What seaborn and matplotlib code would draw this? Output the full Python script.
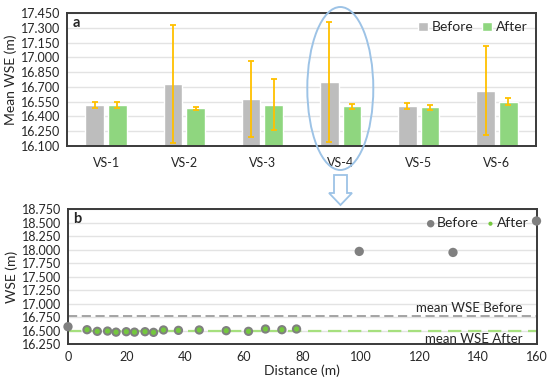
import matplotlib

matplotlib.use("Agg")

import matplotlib.pyplot as plt
import numpy as np
import pandas as pd
import seaborn as sns
from matplotlib.patches import Ellipse, Polygon
from matplotlib.ticker import MultipleLocator, FormatStrFormatter


# --------------------------------------------------
# Data
# --------------------------------------------------

stations = ["VS-1", "VS-2", "VS-3", "VS-4", "VS-5", "VS-6"]

mean_before = [16.517, 16.730, 16.580, 16.750, 16.506, 16.660]
mean_after = [16.517, 16.482, 16.520, 16.502, 16.492, 16.548]

err_before = [0.030, 0.595, 0.385, 0.610, 0.035, 0.450]
err_after = [0.030, 0.017, 0.260, 0.028, 0.025, 0.035]

dist_before = [0.0, 6.5, 10.0, 13.5, 16.4, 19.9, 22.7, 26.3, 29.2, 32.6,
               37.7, 44.8, 54.0, 61.6, 67.4, 73.0, 78.0, 99.4, 131.4, 159.9]
wse_before = [16.571, 16.515, 16.485, 16.490, 16.470, 16.478, 16.470,
              16.478, 16.466, 16.510, 16.503, 16.510, 16.497, 16.485,
              16.528, 16.515, 16.528, 17.965, 17.946, 18.528]

dist_after = [6.5, 10.0, 13.5, 16.4, 19.9, 22.7, 26.3, 29.2, 32.6,
              37.7, 44.8, 54.0, 61.6, 67.4, 73.0, 78.0]
wse_after = [16.515, 16.485, 16.490, 16.470, 16.478, 16.470, 16.478,
             16.466, 16.510, 16.503, 16.510, 16.497, 16.485, 16.528,
             16.515, 16.528]

mean_wse_before = 16.765
mean_wse_after = 16.500

GRAY_BAR = "#BDBDBD"
GREEN_BAR = "#8FD67F"
ERR_COLOR = "#FFC000"
POINT_GRAY = "#808080"
POINT_GREEN = "#74C83E"
FRAME = "#3A3A3A"
TEXT = "#262626"


# --------------------------------------------------
# Style
# --------------------------------------------------

sns.set_style("white")
plt.rcParams["font.family"] = ["Lato", "DejaVu Sans"]
plt.rcParams["text.color"] = TEXT
plt.rcParams["axes.labelcolor"] = TEXT
plt.rcParams["xtick.color"] = TEXT
plt.rcParams["ytick.color"] = TEXT

fig = plt.figure(figsize=(5.5, 3.79), dpi=100)

ax_a = fig.add_axes([0.1218, 0.6148, 0.8527, 0.3509])
ax_b = fig.add_axes([0.1236, 0.0923, 0.8524, 0.3562])


def style_frame(ax):

    for spine in ax.spines.values():
        spine.set_visible(True)
        spine.set_color(FRAME)
        spine.set_linewidth(1.4)

    ax.grid(axis="y", color="#E3E3E3", linewidth=1.0)
    ax.set_axisbelow(True)


# --------------------------------------------------
# Panel a: bar chart
# --------------------------------------------------

bars_df = pd.DataFrame({
    "station": stations * 2,
    "wse": mean_before + mean_after,
    "err": err_before + err_after,
    "period": ["Before"] * len(stations) + ["After"] * len(stations),
})

sns.barplot(
    data=bars_df,
    x="station",
    y="wse",
    hue="period",
    palette={"Before": GRAY_BAR, "After": GREEN_BAR},
    width=0.58,
    gap=0.18,
    errorbar=None,
    saturation=1,
    ax=ax_a,
)

# error bars at the bar centres
bar_patches = [p for p in ax_a.patches if p.get_height() > 0][:len(bars_df)]
for patch, (_, row) in zip(bar_patches, bars_df.iterrows()):
    ax_a.errorbar(
        patch.get_x() + patch.get_width() / 2,
        row["wse"],
        yerr=row["err"],
        color=ERR_COLOR,
        linewidth=1.3,
        capsize=2,
        capthick=1.3,
    )

ax_a.set_ylim(16.1, 17.45)
ax_a.set_yticks(np.round(np.arange(16.1, 17.46, 0.15), 3))
ax_a.yaxis.set_major_formatter(FormatStrFormatter("%.3f"))
ax_a.set_xlim(-0.5, len(stations) - 0.5)
ax_a.set_xlabel("")
ax_a.set_ylabel("Mean WSE (m)", fontsize=10, labelpad=3)
ax_a.tick_params(axis="both", labelsize=9, length=0, pad=5)
ax_a.tick_params(axis="x", pad=8)
style_frame(ax_a)

handles, labels = ax_a.get_legend_handles_labels()
ax_a.legend(
    handles, labels,
    loc="upper right",
    ncol=2,
    frameon=False,
    fontsize=10,
    handlelength=0.7,
    handleheight=0.7,
    handletextpad=0.3,
    columnspacing=0.6,
    borderaxespad=0.2,
)

ax_a.text(0.012, 0.975, "a", transform=ax_a.transAxes,
          fontsize=10.5, fontweight="bold", va="top", ha="left")


# --------------------------------------------------
# Panel b: scatter along distance
# --------------------------------------------------

ax_b.axhline(mean_wse_before, color="#8C8C8C", linestyle=(0, (6, 3)),
             linewidth=1.1, zorder=1)
ax_b.axhline(mean_wse_after, color="#A6E07E", linestyle=(0, (6, 3)),
             linewidth=1.6, zorder=1)

sns.scatterplot(
    x=dist_before, y=wse_before,
    color=POINT_GRAY, s=45, edgecolor="none",
    label="Before", ax=ax_b, zorder=3, clip_on=False,
)
sns.scatterplot(
    x=dist_after, y=wse_after,
    color=POINT_GREEN, s=14, edgecolor="none",
    label="After", ax=ax_b, zorder=4,
)

ax_b.set_xlim(0, 160)
ax_b.set_ylim(16.25, 18.75)
ax_b.xaxis.set_major_locator(MultipleLocator(20))
ax_b.yaxis.set_major_locator(MultipleLocator(0.25))
ax_b.yaxis.set_major_formatter(FormatStrFormatter("%.3f"))
ax_b.set_xlabel("Distance (m)", fontsize=10, labelpad=1)
ax_b.set_ylabel("WSE (m)", fontsize=10, labelpad=3)
ax_b.tick_params(axis="y", labelsize=9, length=0, pad=5)
ax_b.tick_params(axis="x", labelsize=9, direction="in", length=3,
                 color=FRAME, pad=5)
style_frame(ax_b)

ax_b.legend(
    loc="upper right",
    ncol=2,
    frameon=False,
    fontsize=10,
    handlelength=0.5,
    handletextpad=0.2,
    columnspacing=0.6,
    borderaxespad=0.2,
    markerscale=0.8,
)

ax_b.text(155, mean_wse_before + 0.04, "mean WSE Before",
          ha="right", va="bottom", fontsize=9.5)
ax_b.text(155, mean_wse_after - 0.04, "mean WSE After",
          ha="right", va="top", fontsize=9.5)

ax_b.text(0.012, 0.975, "b", transform=ax_b.transAxes,
          fontsize=10.5, fontweight="bold", va="top", ha="left")


# --------------------------------------------------
# Highlight ellipse and arrow (figure pixels)
# --------------------------------------------------

W, H = 550, 379


def fig_xy(px, py):

    return (px / W, 1 - py / H)


ellipse = Ellipse(
    fig_xy(340.3, 88.5),
    width=66 / W,
    height=163 / H,
    transform=fig.transFigure,
    fill=False,
    edgecolor="#9DC3E6",
    linewidth=1.4,
    zorder=10,
)
fig.patches.append(ellipse)

arrow_px = [(334, 175), (347, 175), (347, 193), (352, 193),
            (340.5, 205), (329, 193), (334, 193)]
arrow = Polygon(
    [fig_xy(x, y) for x, y in arrow_px],
    closed=True,
    transform=fig.transFigure,
    fill=False,
    edgecolor="#9DC3E6",
    linewidth=1.3,
    zorder=10,
)
fig.patches.append(arrow)

plt.savefig("out.png", dpi=100)
plt.close()
